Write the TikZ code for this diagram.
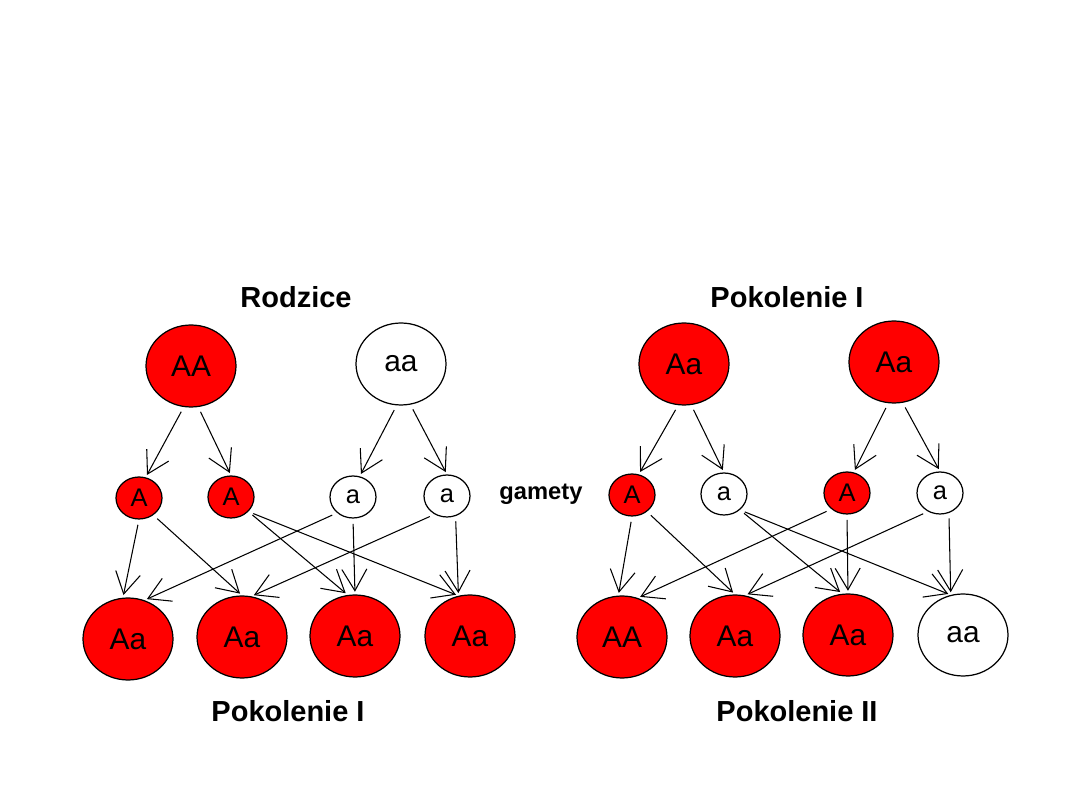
\documentclass[tikz,border=0pt]{standalone}
\usepackage{fontspec}
\setmainfont{Liberation Sans}
\usepackage{xcolor}
\definecolor{cDom}{HTML}{FF0000}
\definecolor{cRec}{HTML}{FFFFFF}
\usepackage{tikz}
\usetikzlibrary{arrows.meta,shapes.geometric}
\tikzset{
  node-big/.style={ellipse,draw=black,line width=0.7pt,inner sep=0pt,
    minimum width=1.8cm,minimum height=1.64cm,font=\fontsize{17}{17}\selectfont},
  node-gamete/.style={ellipse,draw=black,line width=0.7pt,inner sep=0pt,
    minimum width=0.92cm,minimum height=0.84cm,font=\fontsize{14.5}{14.5}\selectfont},
  node-dom/.style={fill=cDom},
  node-rec/.style={fill=cRec},
  label-title/.style={anchor=base,font=\fontsize{16.5}{16.5}\selectfont\bfseries},
  label-side/.style={anchor=base,font=\fontsize{13.5}{13.5}\selectfont\bfseries},
  arrow/.style={-{Straight Barb[length=4.3mm,width=5mm]},line width=0.6pt,
    shorten <=3pt,shorten >=1.5pt},
}

\begin{document}
\begin{tikzpicture}[x=0.02cm,y=-0.02cm]
  \useasboundingbox (0,0) rectangle (1080,810);
  % krzyzowanie rodzicow
  \node[label-title] (tRodzice) at (296,308) {Rodzice};
  \node[node-big,node-dom] (p1) at (191,366) {AA};
  \node[node-big,node-rec] (p2) at (401,364) {aa};
  \node[node-gamete,node-dom] (g1) at (139,498) {A};
  \node[node-gamete,node-dom] (g2) at (231,497) {A};
  \node[node-gamete,node-rec] (g3) at (353,497) {a};
  \node[node-gamete,node-rec] (g4) at (447,496) {a};
  \node[node-big,node-dom] (o1) at (128,639) {Aa};
  \node[node-big,node-dom] (o2) at (242,637) {Aa};
  \node[node-big,node-dom] (o3) at (355,636) {Aa};
  \node[node-big,node-dom] (o4) at (470,636) {Aa};
  \node[label-title] (tPok1) at (288,722) {Pokolenie I};
  \draw[arrow] (p1.260) -- (g1.72);
  \draw[arrow] (p1.280) -- (g2.north);
  \draw[arrow] (p2.264) -- (g3.72);
  \draw[arrow] (p2.283) -- (g4.north);
  \draw[arrow] (g1.270) -- (o1.97);
  \draw[arrow] (g1.310) -- (o2.north);
  \draw[arrow] (g2.320) -- (o3.100);
  \draw[arrow] (g2.320) -- (o4.106);
  \draw[arrow] (g3.225) -- (o1.67);
  \draw[arrow] (g3.270) -- (o3.north);
  \draw[arrow] (g4.236) -- (o2.77);
  \draw[arrow] (g4.293) -- (o4.106);

  \node[label-side] (tGamety) at (541,500) {gamety};

  % krzyzowanie pokolenia I
  \node[label-title] (tPokI) at (787,308) {Pokolenie I};
  \node[node-big,node-dom] (q1) at (684,364) {Aa};
  \node[node-big,node-dom] (q2) at (894,362) {Aa};
  \node[node-gamete,node-dom] (h1) at (632,495) {A};
  \node[node-gamete,node-rec] (h2) at (724,494) {a};
  \node[node-gamete,node-dom] (h3) at (847,493) {A};
  \node[node-gamete,node-rec] (h4) at (940,493) {a};
  \node[node-big,node-dom] (r1) at (622,637) {AA};
  \node[node-big,node-dom] (r2) at (735,636) {Aa};
  \node[node-big,node-dom] (r3) at (848,635) {Aa};
  \node[node-big,node-rec] (r4) at (963,635) {aa};
  \node[label-title] (tPok2) at (797,722) {Pokolenie II};
  \draw[arrow] (q1.262) -- (h1.72);
  \draw[arrow] (q1.280) -- (h2.north);
  \draw[arrow] (q2.262) -- (h3.72);
  \draw[arrow] (q2.282) -- (h4.north);
  \draw[arrow] (h1.270) -- (r1.95);
  \draw[arrow] (h1.312) -- (r2.north);
  \draw[arrow] (h2.315) -- (r3.98);
  \draw[arrow] (h2.315) -- (r4.107);
  \draw[arrow] (h3.226) -- (r1.68);
  \draw[arrow] (h3.270) -- (r3.north);
  \draw[arrow] (h4.237) -- (r2.76);
  \draw[arrow] (h4.294) -- (r4.107);
\end{tikzpicture}
\end{document}
